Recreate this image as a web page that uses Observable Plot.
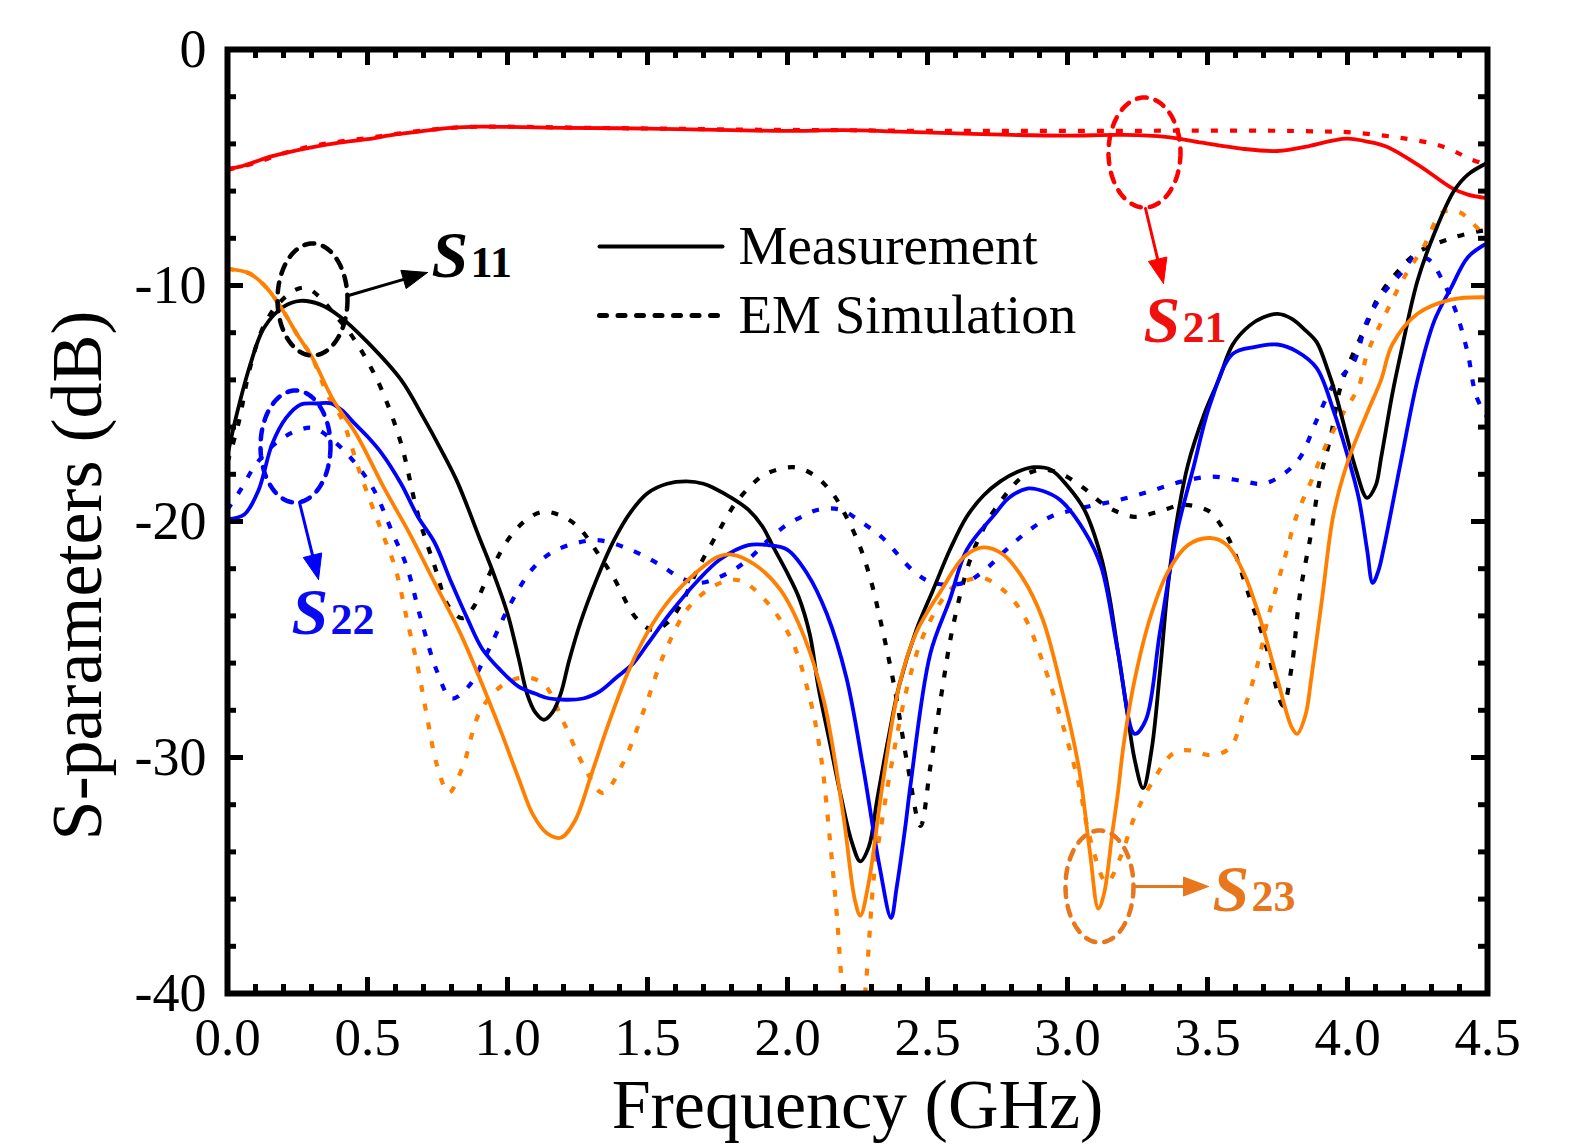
<!DOCTYPE html>
<html><head><meta charset="utf-8">
<script src="https://cdn.jsdelivr.net/npm/d3@7"></script>
<script src="https://cdn.jsdelivr.net/npm/@observablehq/plot@0.6"></script>
<style>html,body{margin:0;padding:0;background:#fff}</style>
</head><body><div id="chart"></div>
<script>
// ---------------- data (frequency GHz, dB) ----------------
const s21Meas = [[0,-5.05],[0.05,-4.95],[0.1,-4.75],[0.15,-4.55],[0.2,-4.4],[0.3,-4.15],[0.4,-3.95],[0.5,-3.8],[0.6,-3.6],[0.7,-3.45],[0.8,-3.32],[0.9,-3.27],[1.0,-3.28],[1.2,-3.32],[1.5,-3.35],[1.8,-3.42],[2.0,-3.45],[2.2,-3.42],[2.4,-3.48],[2.6,-3.55],[2.8,-3.62],[3.0,-3.65],[3.2,-3.62],[3.35,-3.7],[3.48,-3.95],[3.62,-4.2],[3.75,-4.3],[3.86,-4.1],[3.95,-3.85],[4.0,-3.78],[4.07,-3.9],[4.14,-4.12],[4.26,-4.95],[4.37,-5.85],[4.43,-6.15],[4.5,-6.3]];
const s21Sim = [[0,-5.1],[0.1,-4.8],[0.2,-4.4],[0.3,-4.1],[0.4,-3.9],[0.5,-3.75],[0.6,-3.58],[0.7,-3.43],[0.8,-3.32],[0.9,-3.27],[1.0,-3.27],[1.3,-3.32],[1.6,-3.36],[1.9,-3.4],[2.2,-3.42],[2.5,-3.45],[2.8,-3.45],[3.1,-3.45],[3.4,-3.44],[3.7,-3.44],[3.9,-3.47],[4.0,-3.5],[4.13,-3.65],[4.22,-3.8],[4.31,-4.0],[4.38,-4.3],[4.43,-4.6],[4.5,-4.9]];
const s11Meas = [[0,-17.2],[0.03,-15.6],[0.08,-13.4],[0.13,-11.8],[0.2,-10.9],[0.26,-10.65],[0.33,-10.8],[0.4,-11.3],[0.5,-12.4],[0.62,-14.0],[0.7,-15.6],[0.76,-16.9],[0.82,-18.3],[0.9,-20.7],[0.95,-22.2],[1.0,-23.9],[1.04,-25.8],[1.07,-27.3],[1.1,-28.1],[1.13,-28.4],[1.16,-28.1],[1.19,-27.3],[1.22,-25.9],[1.26,-24.3],[1.32,-22.4],[1.38,-20.8],[1.44,-19.6],[1.5,-18.8],[1.57,-18.4],[1.64,-18.3],[1.7,-18.4],[1.74,-18.6],[1.8,-19.0],[1.86,-19.5],[1.91,-20.2],[1.95,-21.1],[2.0,-22.2],[2.04,-23.2],[2.08,-24.8],[2.11,-27.0],[2.15,-29.3],[2.19,-31.6],[2.23,-33.6],[2.26,-34.4],[2.29,-33.8],[2.32,-31.8],[2.36,-29.2],[2.4,-26.9],[2.46,-24.6],[2.52,-22.9],[2.58,-21.2],[2.64,-19.8],[2.7,-18.9],[2.76,-18.3],[2.82,-17.9],[2.88,-17.7],[2.94,-17.8],[3.0,-18.5],[3.06,-19.5],[3.12,-21.5],[3.15,-23.2],[3.18,-25.5],[3.21,-27.8],[3.24,-30.1],[3.27,-31.3],[3.3,-29.7],[3.33,-26.4],[3.36,-22.6],[3.39,-20.0],[3.43,-17.6],[3.49,-15.4],[3.54,-14.0],[3.59,-12.5],[3.65,-11.7],[3.7,-11.35],[3.75,-11.2],[3.8,-11.4],[3.85,-11.9],[3.89,-12.4],[3.93,-13.6],[3.96,-14.7],[4.0,-16.5],[4.03,-17.8],[4.07,-19.0],[4.1,-18.5],[4.12,-17.3],[4.16,-14.6],[4.19,-12.9],[4.25,-9.8],[4.31,-7.8],[4.38,-6.0],[4.43,-5.3],[4.5,-4.8]];
const s11Sim = [[0,-17.5],[0.04,-15.8],[0.08,-13.5],[0.13,-11.7],[0.18,-10.8],[0.24,-10.2],[0.28,-10.1],[0.33,-10.5],[0.38,-11.2],[0.43,-11.9],[0.49,-13.0],[0.55,-14.4],[0.62,-16.7],[0.68,-19.7],[0.74,-21.9],[0.79,-23.6],[0.84,-24.1],[0.88,-23.6],[0.92,-22.6],[1.0,-20.8],[1.06,-20.0],[1.12,-19.6],[1.18,-19.7],[1.25,-20.2],[1.32,-21.3],[1.38,-22.4],[1.46,-24.1],[1.52,-24.6],[1.57,-24.3],[1.62,-23.5],[1.68,-22.0],[1.75,-20.5],[1.81,-19.3],[1.86,-18.6],[1.92,-18.0],[2.02,-17.7],[2.09,-18.0],[2.16,-18.8],[2.21,-19.8],[2.26,-21.1],[2.3,-22.6],[2.33,-24.1],[2.38,-26.9],[2.43,-30.4],[2.475,-32.9],[2.51,-30.4],[2.55,-27.3],[2.59,-24.5],[2.65,-21.7],[2.7,-20.3],[2.74,-19.5],[2.84,-18.1],[2.91,-17.8],[2.98,-18.0],[3.06,-18.6],[3.12,-19.2],[3.18,-19.6],[3.24,-19.8],[3.32,-19.6],[3.41,-19.3],[3.47,-19.4],[3.51,-19.6],[3.55,-20.2],[3.59,-21.1],[3.65,-23.2],[3.71,-25.3],[3.77,-27.8],[3.8,-26.2],[3.83,-23.1],[3.87,-20.5],[3.9,-18.3],[3.94,-16.4],[3.975,-14.3],[4.02,-12.9],[4.07,-11.6],[4.11,-10.5],[4.18,-9.4],[4.25,-8.6],[4.37,-8.0],[4.47,-7.7],[4.5,-7.65]];
const s22Meas = [[0,-19.9],[0.06,-19.7],[0.11,-18.7],[0.16,-16.7],[0.21,-15.6],[0.26,-15.05],[0.32,-15.0],[0.37,-15.0],[0.41,-15.3],[0.45,-15.8],[0.5,-16.4],[0.55,-17.1],[0.62,-18.4],[0.68,-19.8],[0.74,-20.9],[0.8,-22.6],[0.86,-24.2],[0.91,-25.4],[0.975,-26.3],[1.04,-27.0],[1.1,-27.3],[1.15,-27.5],[1.27,-27.5],[1.33,-27.2],[1.39,-26.6],[1.45,-26.0],[1.5,-25.2],[1.58,-23.9],[1.68,-22.5],[1.76,-21.6],[1.86,-21.0],[1.93,-21.0],[2.0,-21.2],[2.07,-22.2],[2.14,-23.9],[2.21,-26.6],[2.27,-30.4],[2.33,-34.7],[2.37,-36.8],[2.39,-35.5],[2.42,-33.0],[2.44,-31.1],[2.51,-25.6],[2.58,-23.3],[2.64,-21.2],[2.74,-19.7],[2.79,-19.0],[2.86,-18.6],[2.91,-18.7],[2.975,-19.1],[3.06,-20.4],[3.12,-21.9],[3.18,-25.5],[3.24,-29.0],[3.28,-28.4],[3.33,-24.7],[3.39,-20.5],[3.45,-17.7],[3.51,-15.0],[3.59,-12.9],[3.67,-12.6],[3.75,-12.5],[3.82,-12.8],[3.89,-13.5],[3.95,-15.3],[4.0,-17.2],[4.04,-19.0],[4.07,-21.2],[4.09,-22.6],[4.11,-22.1],[4.13,-21.1],[4.19,-17.5],[4.25,-14.0],[4.31,-11.5],[4.37,-10.1],[4.43,-8.8],[4.5,-8.2]];
const s22Sim = [[0,-19.5],[0.05,-18.6],[0.1,-17.6],[0.18,-16.6],[0.26,-16.1],[0.31,-16.05],[0.38,-16.6],[0.44,-17.3],[0.52,-18.6],[0.59,-20.5],[0.64,-21.9],[0.69,-24.1],[0.75,-26.4],[0.8,-27.5],[0.86,-27.0],[0.93,-25.5],[1.01,-23.5],[1.09,-22.0],[1.16,-21.3],[1.25,-20.9],[1.33,-20.8],[1.44,-21.2],[1.54,-21.8],[1.62,-22.4],[1.69,-22.6],[1.8,-22.1],[1.87,-21.5],[1.93,-20.8],[1.99,-20.2],[2.05,-19.8],[2.11,-19.5],[2.19,-19.5],[2.26,-20.0],[2.34,-20.7],[2.45,-22.1],[2.52,-22.6],[2.63,-22.6],[2.7,-22.1],[2.79,-21.1],[2.86,-20.4],[2.94,-19.8],[3.06,-19.4],[3.18,-19.1],[3.3,-18.7],[3.41,-18.3],[3.52,-18.1],[3.63,-18.3],[3.7,-18.4],[3.77,-18.0],[3.83,-17.3],[3.89,-15.7],[3.95,-14.2],[4.02,-13.3],[4.07,-11.5],[4.13,-10.3],[4.19,-9.5],[4.24,-8.8],[4.29,-8.9],[4.34,-9.8],[4.39,-11.2],[4.43,-12.9],[4.46,-14.7],[4.5,-15.6]];
const s23Meas = [[0,-9.3],[0.08,-9.5],[0.14,-10.1],[0.2,-11.1],[0.25,-12.1],[0.3,-13.0],[0.38,-14.9],[0.46,-16.3],[0.56,-18.6],[0.65,-20.5],[0.74,-22.6],[0.83,-24.7],[0.92,-27.2],[0.98,-29.0],[1.04,-30.9],[1.09,-32.4],[1.14,-33.2],[1.19,-33.4],[1.24,-32.7],[1.3,-30.7],[1.36,-28.6],[1.43,-26.4],[1.5,-24.7],[1.58,-23.3],[1.68,-22.1],[1.75,-21.5],[1.8,-21.4],[1.88,-21.8],[1.975,-22.9],[2.06,-24.9],[2.13,-27.6],[2.2,-32.5],[2.24,-36.0],[2.26,-36.7],[2.29,-35.3],[2.34,-31.1],[2.4,-26.9],[2.46,-24.7],[2.55,-22.9],[2.63,-21.5],[2.7,-21.1],[2.77,-21.4],[2.84,-22.4],[2.91,-24.1],[2.975,-26.9],[3.04,-30.4],[3.08,-34.0],[3.11,-36.4],[3.13,-35.8],[3.16,-33.2],[3.18,-31.5],[3.2,-29.5],[3.24,-26.7],[3.3,-23.9],[3.36,-22.1],[3.43,-21.0],[3.51,-20.7],[3.57,-21.0],[3.63,-22.2],[3.69,-24.2],[3.75,-26.7],[3.8,-28.7],[3.82,-29.0],[3.85,-28.2],[3.87,-26.7],[3.91,-23.2],[3.95,-19.7],[4.0,-17.5],[4.07,-15.4],[4.12,-14.0],[4.16,-12.5],[4.25,-11.2],[4.37,-10.6],[4.5,-10.5]];
const s23Sim = [[0,-9.3],[0.08,-9.5],[0.14,-10.1],[0.2,-11.1],[0.25,-12.1],[0.3,-13.0],[0.36,-14.7],[0.41,-15.7],[0.475,-18.0],[0.55,-20.4],[0.6,-22.0],[0.64,-24.1],[0.68,-26.2],[0.71,-28.1],[0.75,-30.4],[0.79,-31.5],[0.84,-30.4],[0.9,-28.1],[0.975,-27.0],[1.06,-26.6],[1.13,-26.9],[1.2,-28.5],[1.27,-30.3],[1.34,-31.5],[1.41,-30.3],[1.49,-27.9],[1.56,-25.6],[1.65,-23.6],[1.76,-22.6],[1.83,-22.5],[1.91,-23.2],[2.01,-24.9],[2.08,-27.5],[2.12,-30.0],[2.15,-33.3],[2.175,-36.5],[2.2,-40.2],[2.24,-43.0],[2.275,-40.2],[2.31,-34.9],[2.34,-32.5],[2.37,-30.4],[2.43,-26.9],[2.49,-24.7],[2.58,-22.9],[2.64,-22.5],[2.7,-22.4],[2.77,-22.9],[2.84,-23.9],[2.91,-25.9],[2.975,-28.3],[3.04,-31.1],[3.08,-33.4],[3.14,-35.3],[3.19,-34.2],[3.24,-32.5],[3.3,-31.1],[3.38,-29.8],[3.44,-29.7],[3.51,-29.9],[3.58,-29.6],[3.63,-28.0],[3.68,-26.0],[3.72,-23.9],[3.77,-21.8],[3.82,-19.7],[3.87,-18.3],[3.93,-16.6],[3.99,-15.3],[4.04,-14.3],[4.07,-12.9],[4.14,-11.1],[4.21,-9.5],[4.27,-8.4],[4.34,-6.9],[4.4,-6.9],[4.45,-7.4],[4.5,-8.0]];

const xMajorTicks = [0, 0.5, 1.0, 1.5, 2.0, 2.5, 3.0, 3.5, 4.0, 4.5];
const xMinorTicks = d3.range(0, 46).map(i => i / 10);
const yMajorTicks = [0, -10, -20, -30, -40];
const yMinorTicks = d3.range(0, 21).map(i => -2 * i);
const legendLabels = ["Measurement", "EM Simulation"];

// ---------------- layout ----------------
const W = 1584, H = 1145, ML = 227, MR = 97, MT = 49, MB = 152;
const pxPerGHz = (W - ML - MR) / 4.5;
const pxPerDb = (H - MT - MB) / 40;
const fx = px => (px - ML) / pxPerGHz;
const fy = py => -(py - MT) / pxPerDb;

const BLACK = "#000000", RED = "#ff0000", BLUE = "#0000ff", ORANGE = "#ff8000";
const ORANGE_T = "#e8761c", RED_T = "#f01010", BLUE_T = "#0a0af0";
const FONT = "'Liberation Serif', 'Times New Roman', Times, serif";

const curves = [
  {data: s21Sim, color: RED, dotted: true},
  {data: s11Sim, color: BLACK, dotted: true},
  {data: s22Sim, color: BLUE, dotted: true},
  {data: s23Sim, color: ORANGE, dotted: true},
  {data: s21Meas, color: RED, dotted: false},
  {data: s11Meas, color: BLACK, dotted: false},
  {data: s22Meas, color: BLUE, dotted: false},
  {data: s23Meas, color: ORANGE, dotted: false}
];
const rows = arr => arr.map(([f, db]) => ({f, db}));

// annotation shapes (pixel layout)
const ellipses = [
  {cx: 312, cy: 299, rx: 35, ry: 56, color: BLACK},
  {cx: 295, cy: 446, rx: 35, ry: 56, color: BLUE},
  {cx: 1144, cy: 152, rx: 36, ry: 55, color: RED},
  {cx: 1099, cy: 886, rx: 34, ry: 56, color: ORANGE_T}
];
const arrows = [
  {x1: 348, y1: 295, x2: 427, y2: 272, color: BLACK},
  {x1: 299, y1: 502, x2: 318, y2: 579, color: BLUE},
  {x1: 1145, y1: 208, x2: 1163, y2: 283, color: RED},
  {x1: 1134, y1: 886, x2: 1208, y2: 886, color: ORANGE_T}
];
const labels = [
  {x: 431, y: 276, sub: "11", color: BLACK},
  {x: 1143, y: 341, sub: "21", color: RED_T},
  {x: 291, y: 633, sub: "22", color: BLUE_T},
  {x: 1212, y: 910, sub: "23", color: ORANGE_T}
];

function ellipseRows(e) {
  return d3.range(0, 121).map(i => {
    const t = i / 120 * 2 * Math.PI;
    return {f: fx(e.cx + e.rx * Math.cos(t)), db: fy(e.cy + e.ry * Math.sin(t))};
  });
}
function arrowParts(a) {
  const L = 25, w = 19;
  const dx = a.x2 - a.x1, dy = a.y2 - a.y1, len = Math.hypot(dx, dy);
  const ux = dx / len, uy = dy / len, nx = -uy, ny = ux;
  const bx = a.x2 - L * ux, by = a.y2 - L * uy;
  const shaft = [{f: fx(a.x1), db: fy(a.y1)}, {f: fx(bx + 2 * ux), db: fy(by + 2 * uy)}];
  const head = [[a.x2, a.y2], [bx + nx * w / 2, by + ny * w / 2], [bx - nx * w / 2, by - ny * w / 2], [a.x2, a.y2]]
    .map(([x, y]) => ({f: fx(x), db: fy(y)}));
  return {shaft, head};
}

const marks = [];
// curves
for (const c of curves) {
  marks.push(Plot.line(rows(c.data), {
    x: "f", y: "db", stroke: c.color,
    strokeWidth: c.dotted ? 4.2 : 3.8,
    strokeDasharray: c.dotted ? "7,12" : null,
    strokeLinecap: c.dotted ? "butt" : "round",
    strokeLinejoin: "round",
    curve: "catmull-rom", clip: true
  }));
}
// ellipses
for (const e of ellipses) {
  marks.push(Plot.line(ellipseRows(e), {x: "f", y: "db", stroke: e.color, strokeWidth: 4.5,
    strokeDasharray: "10,9", strokeLinecap: "round", curve: "linear"}));
}
// arrows
for (const a of arrows) {
  const p = arrowParts(a);
  marks.push(Plot.line(p.shaft, {x: "f", y: "db", stroke: a.color, strokeWidth: 3}));
  marks.push(Plot.line(p.head, {x: "f", y: "db", stroke: a.color, fill: a.color, strokeWidth: 1}));
}
// S labels
for (const l of labels) {
  marks.push(Plot.text([l], {x: d => fx(d.x), y: d => fy(d.y), text: () => "S", fill: l.color,
    fontSize: 66, fontWeight: "bold", fontStyle: "italic", textAnchor: "start", lineAnchor: "bottom", fontFamily: FONT}));
  marks.push(Plot.text([l], {x: d => fx(d.x), y: d => fy(d.y), dx: 39, text: d => d.sub, fill: l.color,
    fontSize: 44, fontWeight: "bold", textAnchor: "start", lineAnchor: "bottom", fontFamily: FONT}));
}
// legend
marks.push(Plot.line([{f: fx(599), db: fy(246)}, {f: fx(722), db: fy(246)}], {x: "f", y: "db", stroke: BLACK, strokeWidth: 4}));
marks.push(Plot.line([{f: fx(599), db: fy(315)}, {f: fx(722), db: fy(315)}], {x: "f", y: "db", stroke: BLACK, strokeWidth: 5, strokeDasharray: "7,11.5"}));
marks.push(Plot.text([legendLabels[0]], {x: fx(738), y: fy(263), text: d => d, fontSize: 55, textAnchor: "start", lineAnchor: "bottom", fill: BLACK, fontFamily: FONT}));
marks.push(Plot.text([legendLabels[1]], {x: fx(738), y: fy(332), text: d => d, fontSize: 55, textAnchor: "start", lineAnchor: "bottom", fill: BLACK, fontFamily: FONT}));

// inward ticks on all four sides
const majL = 16, minL = 9, tW = 5;
marks.push(Plot.ruleX(xMinorTicks, {x: d => d, y1: -40, y2: -40 + minL / pxPerDb, stroke: BLACK, strokeWidth: tW}));
marks.push(Plot.ruleX(xMajorTicks, {x: d => d, y1: -40, y2: -40 + majL / pxPerDb, stroke: BLACK, strokeWidth: tW}));
marks.push(Plot.ruleX(xMinorTicks, {x: d => d, y1: 0, y2: -minL / pxPerDb, stroke: BLACK, strokeWidth: tW}));
marks.push(Plot.ruleX(xMajorTicks, {x: d => d, y1: 0, y2: -majL / pxPerDb, stroke: BLACK, strokeWidth: tW}));
marks.push(Plot.ruleY(yMinorTicks, {y: d => d, x1: 0, x2: minL / pxPerGHz, stroke: BLACK, strokeWidth: tW}));
marks.push(Plot.ruleY(yMajorTicks, {y: d => d, x1: 0, x2: majL / pxPerGHz, stroke: BLACK, strokeWidth: tW}));
marks.push(Plot.ruleY(yMinorTicks, {y: d => d, x1: 4.5, x2: 4.5 - minL / pxPerGHz, stroke: BLACK, strokeWidth: tW}));
marks.push(Plot.ruleY(yMajorTicks, {y: d => d, x1: 4.5, x2: 4.5 - majL / pxPerGHz, stroke: BLACK, strokeWidth: tW}));

marks.push(Plot.frame({stroke: BLACK, strokeWidth: 6}));

// axes
marks.push(Plot.axisX(xMajorTicks, {anchor: "bottom", tickSize: 0, tickPadding: 24, fontSize: 53,
  tickFormat: d3.format(".1f"), label: null, fill: BLACK, fontFamily: FONT}));
marks.push(Plot.axisY(yMajorTicks, {anchor: "left", tickSize: 0, tickPadding: 21, fontSize: 54,
  tickFormat: d => String(d), label: null, fill: BLACK, fontFamily: FONT}));
// axis titles
marks.push(Plot.text(["Frequency (GHz)"], {frameAnchor: "bottom", dy: 134, lineAnchor: "bottom", text: d => d,
  fontSize: 70, fill: BLACK, fontFamily: FONT}));
marks.push(Plot.text(["S-parameters (dB)"], {frameAnchor: "left", dx: 100 - ML, dy: 54, rotate: -90, lineAnchor: "bottom",
  textAnchor: "middle", text: d => d, fontSize: 72, fill: BLACK, fontFamily: FONT}));

const chart = Plot.plot({
  width: W, height: H,
  marginLeft: ML, marginRight: MR, marginTop: MT, marginBottom: MB,
  x: {domain: [0, 4.5], label: null},
  y: {domain: [-40, 0], label: null},
  style: {fontFamily: FONT, fontSize: "54px", background: "#ffffff", color: "#000000", overflow: "visible"},
  marks
});
document.getElementById("chart").appendChild(chart);
</script></body></html>
